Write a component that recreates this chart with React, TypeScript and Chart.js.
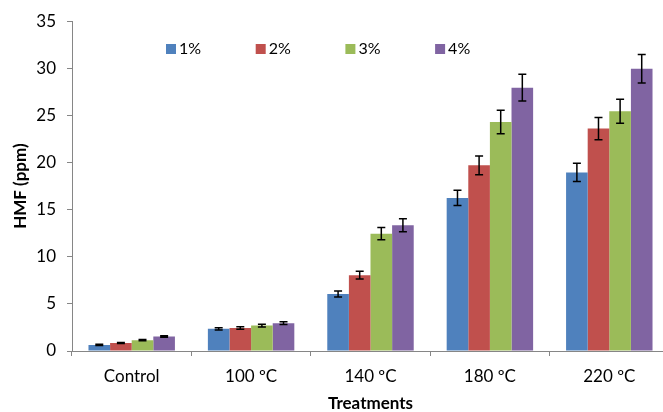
import React, { useEffect, useRef } from "react";
import { Chart, registerables } from "chart.js";

Chart.register(...registerables);

const categories = ["Control", "100 ºC", "140 ºC", "180 ºC", "220 ºC"];
const seriesLabels = ["1%", "2%", "3%", "4%"];
const colors = ["#4F81BD", "#C0504D", "#9BBB59", "#8064A2"];

const values1 = [0.65, 2.35, 6.05, 16.25, 18.95];
const values2 = [0.85, 2.45, 8.05, 19.7, 23.6];
const values3 = [1.15, 2.7, 12.45, 24.3, 25.45];
const values4 = [1.55, 2.95, 13.35, 27.95, 29.95];

const err1 = [0.06, 0.13, 0.33, 0.82, 0.97];
const err2 = [0.06, 0.13, 0.42, 1.0, 1.18];
const err3 = [0.07, 0.14, 0.65, 1.25, 1.27];
const err4 = [0.08, 0.15, 0.69, 1.43, 1.52];

const yTicks = [0, 5, 10, 15, 20, 25, 30, 35];

const seriesValues = [values1, values2, values3, values4];
const seriesErrors = [err1, err2, err3, err4];

const FONT = "Lato, 'Open Sans', sans-serif";

const errorBarPlugin = {
  id: "errorBars",
  afterDatasetsDraw(chart: any) {
    const ctx = chart.ctx;
    const y = chart.scales.y;
    ctx.save();
    ctx.strokeStyle = "#000";
    ctx.lineWidth = 1.5;
    chart.data.datasets.forEach((ds: any, i: number) => {
      const meta = chart.getDatasetMeta(i);
      const errs = seriesErrors[i];
      meta.data.forEach((el: any, j: number) => {
        const v = ds.data[j];
        const e = errs[j];
        const yt = y.getPixelForValue(v + e);
        const yb = y.getPixelForValue(v - e);
        const x = el.x;
        const cw = 4;
        ctx.beginPath();
        ctx.moveTo(x, yt);
        ctx.lineTo(x, yb);
        ctx.moveTo(x - cw, yt);
        ctx.lineTo(x + cw, yt);
        ctx.moveTo(x - cw, yb);
        ctx.lineTo(x + cw, yb);
        ctx.stroke();
      });
    });
    ctx.restore();
  },
};

const legendPlugin = {
  id: "insideLegend",
  afterDraw(chart: any) {
    const ctx = chart.ctx;
    ctx.save();
    ctx.font = `16px ${FONT}`;
    ctx.textBaseline = "middle";
    ctx.textAlign = "left";
    const startX = 166;
    const step = 89.7;
    const cy = 49;
    chart.data.datasets.forEach((ds: any, i: number) => {
      const x = startX + i * step;
      ctx.fillStyle = ds.backgroundColor;
      ctx.fillRect(x, cy - 5, 10, 10);
      ctx.fillStyle = "#000";
      ctx.fillText(ds.label, x + 13, cy);
    });
    ctx.restore();
  },
};

export default function App() {
  const ref = useRef<HTMLCanvasElement>(null);
  useEffect(() => {
    if (!ref.current) return;
    const chart = new Chart(ref.current, {
      type: "bar",
      data: {
        labels: categories,
        datasets: seriesLabels.map((label, i) => ({
          label,
          data: seriesValues[i],
          backgroundColor: colors[i],
          borderWidth: 0,
          categoryPercentage: 0.724,
          barPercentage: 1.0,
        })),
      },
      options: {
        animation: false,
        responsive: false,
        maintainAspectRatio: false,
        layout: { padding: { left: 0, right: 11, top: 20, bottom: 0 } },
        plugins: {
          legend: { display: false },
          tooltip: { enabled: false },
        },
        scales: {
          x: {
            grid: {
              offset: true,
              drawOnChartArea: false,
              drawTicks: true,
              tickLength: 5,
              color: "#868686",
            },
            border: { color: "#868686", width: 1 },
            ticks: {
              color: "#000",
              font: { family: FONT, size: 17 },
              padding: 10,
            },
            title: {
              display: true,
              text: "Treatments",
              color: "#000",
              font: { family: FONT, size: 17, weight: "bold" },
              padding: { top: 4, bottom: -2 },
            },
            afterFit(scale: any) {
              scale.height = 61;
            },
          },
          y: {
            min: 0,
            max: 35,
            afterBuildTicks(scale: any) {
              scale.ticks = yTicks.map((v) => ({ value: v }));
            },
            grid: {
              drawOnChartArea: false,
              drawTicks: true,
              tickLength: 5,
              color: "#868686",
            },
            border: { color: "#868686", width: 1 },
            ticks: {
              color: "#000",
              font: { family: FONT, size: 17 },
              padding: 11,
            },
            title: {
              display: true,
              text: "HMF (ppm)",
              color: "#000",
              font: { family: FONT, size: 17, weight: "bold" },
              padding: { top: 10, bottom: 0 },
            },
            afterFit(scale: any) {
              scale.width = 72;
            },
          },
        },
      },
      plugins: [errorBarPlugin, legendPlugin],
    });
    return () => chart.destroy();
  }, []);
  return (
    <div
      style={{
        position: "fixed",
        left: 0,
        top: 0,
        width: 663,
        height: 412,
        overflow: "hidden",
        background: "#fff",
      }}
    >
      <canvas ref={ref} width={680} height={412} style={{ width: 680, height: 412, display: "block" }} />
    </div>
  );
}
